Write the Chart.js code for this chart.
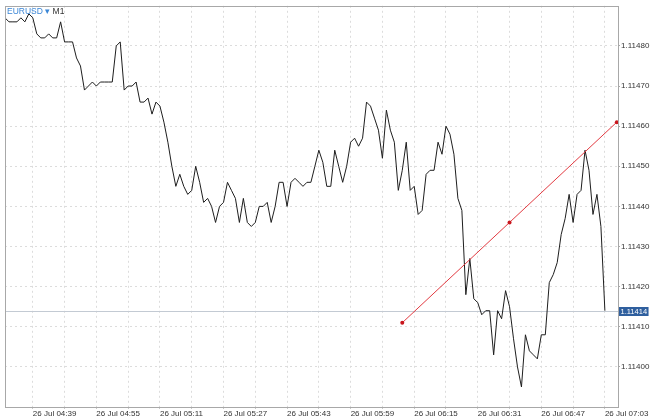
<!DOCTYPE html>
<html>
<head>
<meta charset="utf-8">
<style>
  html, body { margin: 0; padding: 0; background: #ffffff; }
  #wrap { width: 650px; height: 416px; position: relative; }
</style>
<script src="https://cdn.jsdelivr.net/npm/chart.js@4/dist/chart.umd.min.js"></script>
</head>
<body>
<div id="wrap"><canvas id="c" width="650" height="416"></canvas></div>
<script>
// ---- data (EURUSD, M1 closes) ----
const symbol = 'EURUSD';
const timeframe = 'M1';
const times = [
  '04:32','04:33','04:34','04:35','04:36','04:37','04:38','04:39',
  '04:40','04:41','04:42','04:43','04:44','04:45','04:46','04:47',
  '04:48','04:49','04:50','04:51','04:52','04:53','04:54','04:55',
  '04:56','04:57','04:58','04:59','05:00','05:01','05:02','05:03',
  '05:04','05:05','05:06','05:07','05:08','05:09','05:10','05:11',
  '05:12','05:13','05:14','05:15','05:16','05:17','05:18','05:19',
  '05:20','05:21','05:22','05:23','05:24','05:25','05:26','05:27',
  '05:28','05:29','05:30','05:31','05:32','05:33','05:34','05:35',
  '05:36','05:37','05:38','05:39','05:40','05:41','05:42','05:43',
  '05:44','05:45','05:46','05:47','05:48','05:49','05:50','05:51',
  '05:52','05:53','05:54','05:55','05:56','05:57','05:58','05:59',
  '06:00','06:01','06:02','06:03','06:04','06:05','06:06','06:07',
  '06:08','06:09','06:10','06:11','06:12','06:13','06:14','06:15',
  '06:16','06:17','06:18','06:19','06:20','06:21','06:22','06:23',
  '06:24','06:25','06:26','06:27','06:28','06:29','06:30','06:31',
  '06:32','06:33','06:34','06:35','06:36','06:37','06:38','06:39',
  '06:40','06:41','06:42','06:43','06:44','06:45','06:46','06:47',
  '06:48','06:49','06:50','06:51','06:52','06:53','06:54','06:55',
  '06:56','06:57','06:58','06:59','07:00','07:01','07:02','07:03'
];
const closes = [
  1.11487,1.11486,1.11486,1.11486,1.11487,1.11486,1.11488,1.11487,
  1.11483,1.11482,1.11482,1.11483,1.11482,1.11482,1.11486,1.11481,
  1.11481,1.11481,1.11477,1.11475,1.11469,1.11470,1.11471,1.11470,
  1.11471,1.11471,1.11471,1.11471,1.11480,1.11481,1.11469,1.11470,
  1.11470,1.11471,1.11466,1.11466,1.11467,1.11463,1.11466,1.11465,
  1.11461,1.11456,1.11450,1.11445,1.11448,1.11445,1.11443,1.11444,
  1.11450,1.11446,1.11441,1.11442,1.11440,1.11436,1.11440,1.11441,
  1.11446,1.11444,1.11442,1.11436,1.11442,1.11436,1.11435,1.11436,
  1.11440,1.11440,1.11441,1.11436,1.11440,1.11446,1.11446,1.11440,
  1.11446,1.11447,1.11446,1.11445,1.11446,1.11446,1.11450,1.11454,
  1.11451,1.11445,1.11445,1.11454,1.11450,1.11446,1.11450,1.11456,
  1.11457,1.11455,1.11457,1.11466,1.11465,1.11462,1.11459,1.11452,
  1.11464,1.11459,1.11456,1.11444,1.11449,1.11456,1.11444,1.11445,
  1.11438,1.11439,1.11448,1.11449,1.11449,1.11456,1.11453,1.11460,
  1.11458,1.11453,1.11442,1.11439,1.11418,1.11427,1.11417,1.11416,
  1.11413,1.11414,1.11414,1.11403,1.11414,1.11412,1.11419,1.11415,
  1.11407,1.11400,1.11395,1.11408,1.11404,1.11403,1.11402,1.11408,
  1.11408,1.11421,1.11423,1.11426,1.11433,1.11437,1.11443,1.11436,
  1.11443,1.11444,1.11454,1.11449,1.11438,1.11443,1.11435,1.11414
];
const currentPrice = 1.11414;
const trendTimes = ['06:12', '06:39', '07:06'];
const trendValues = [1.11411, 1.11436, 1.11461];
const yTicks = [1.11400, 1.11410, 1.11420, 1.11430, 1.11440, 1.11450, 1.11460, 1.11470, 1.11480];
const gridTimes = ['04:39','04:47','04:55','05:03','05:11','05:19','05:27','05:35','05:43','05:51',
                   '05:59','06:07','06:15','06:23','06:31','06:39','06:47','06:55','07:03'];
const xTickLabels = ['26 Jul 04:39','26 Jul 04:55','26 Jul 05:11','26 Jul 05:27','26 Jul 05:43',
                     '26 Jul 05:59','26 Jul 06:15','26 Jul 06:31','26 Jul 06:47','26 Jul 07:03'];

// ---- view ----
const yMin = 1.11390, yMax = 1.11490;
const xMinTime = '04:32';
const xMaxMinutes = 426.3;

function toMin(t) { const p = t.split(':'); return (+p[0]) * 60 + (+p[1]); }
const labelMap = {};
xTickLabels.forEach(l => { labelMap[toMin(l.slice(-5))] = l; });

const FONT = 'Liberation Sans, Arial, Helvetica, sans-serif';
const GRID = '#dcdcdc';

const framePlugin = {
  id: 'frame',
  beforeDatasetsDraw(chart) {
    const { ctx, chartArea: a, scales: { y } } = chart;
    const py = Math.round(y.getPixelForValue(currentPrice)) + 0.5;
    ctx.save();
    ctx.strokeStyle = '#c3cad3';
    ctx.lineWidth = 1;
    ctx.beginPath(); ctx.moveTo(a.left, py); ctx.lineTo(a.right, py); ctx.stroke();
    ctx.restore();
  },
  afterDraw(chart) {
    const { ctx, chartArea: a, scales: { y } } = chart;
    ctx.save();
    // plot frame
    ctx.strokeStyle = '#a8a8a8';
    ctx.lineWidth = 1;
    ctx.strokeRect(Math.round(a.left) + 0.5, Math.round(a.top) + 0.5,
                   Math.round(a.right - a.left), Math.round(a.bottom - a.top));
    // current price box
    const py = Math.round(y.getPixelForValue(currentPrice));
    ctx.font = '7.5px ' + FONT;
    const tw = ctx.measureText(currentPrice.toFixed(5)).width;
    ctx.fillStyle = '#2f5f9e';
    ctx.fillRect(a.right + 1, py - 4, tw + 3, 9);
    ctx.fillStyle = '#ffffff';
    ctx.textBaseline = 'middle';
    ctx.textAlign = 'left';
    ctx.fillText(currentPrice.toFixed(5), a.right + 2.5, py + 0.8);
    // symbol label
    ctx.font = '8.5px ' + FONT;
    ctx.textBaseline = 'middle';
    ctx.fillStyle = '#3a86d6';
    const t1 = symbol + ' \u25BE ';
    ctx.fillText(t1, a.left + 2, a.top + 6);
    const w1 = ctx.measureText(t1).width;
    ctx.fillStyle = '#333333';
    ctx.fillText(timeframe, a.left + 2 + w1, a.top + 6);
    ctx.restore();
  }
};

new Chart(document.getElementById('c'), {
  type: 'line',
  data: {
    datasets: [
      {
        data: times.map((t, i) => ({ x: toMin(t), y: closes[i] })),
        borderColor: '#1e1e1e',
        borderWidth: 1,
        pointRadius: 0,
        tension: 0,
        fill: false,
        order: 2
      },
      {
        data: trendTimes.map((t, i) => ({ x: toMin(t), y: trendValues[i] })),
        borderColor: '#e23a41',
        borderWidth: 1,
        pointRadius: 2,
        pointBackgroundColor: '#c8161d',
        pointBorderColor: '#c8161d',
        pointBorderWidth: 0,
        tension: 0,
        fill: false,
        clip: false,
        order: 1
      }
    ]
  },
  options: {
    responsive: false,
    animation: false,
    events: [],
    layout: { padding: { left: 5, top: 2, right: 0, bottom: 0 } },
    plugins: { legend: { display: false }, tooltip: { enabled: false }, title: { display: false } },
    scales: {
      x: {
        type: 'linear',
        position: 'bottom',
        min: toMin(xMinTime),
        max: xMaxMinutes,
        afterBuildTicks: s => { s.ticks = gridTimes.map(t => ({ value: toMin(t) })); },
        afterFit: s => { s.height = 9; },
        grid: { color: GRID, lineWidth: 1, drawTicks: true, tickLength: 2, tickColor: '#c8c8c8' },
        border: { display: false, dash: [2, 3] },
        ticks: {
          autoSkip: false, maxRotation: 0, minRotation: 0, align: 'start', padding: 0,
          color: '#333333', font: { family: FONT, size: 8 },
          callback: v => labelMap[v] || ''
        }
      },
      y: {
        type: 'linear',
        position: 'right',
        min: yMin,
        max: yMax,
        afterBuildTicks: s => { s.ticks = yTicks.map(v => ({ value: v })); },
        afterFit: s => { s.width = 32; },
        grid: { color: GRID, lineWidth: 1, drawTicks: true, tickLength: 2, tickColor: '#a8a8a8' },
        border: { display: false, dash: [2, 3] },
        ticks: {
          padding: 1, color: '#333333', font: { family: FONT, size: 8 },
          callback: v => Number(v).toFixed(5)
        }
      }
    }
  },
  plugins: [framePlugin]
});
</script>
</body>
</html>
